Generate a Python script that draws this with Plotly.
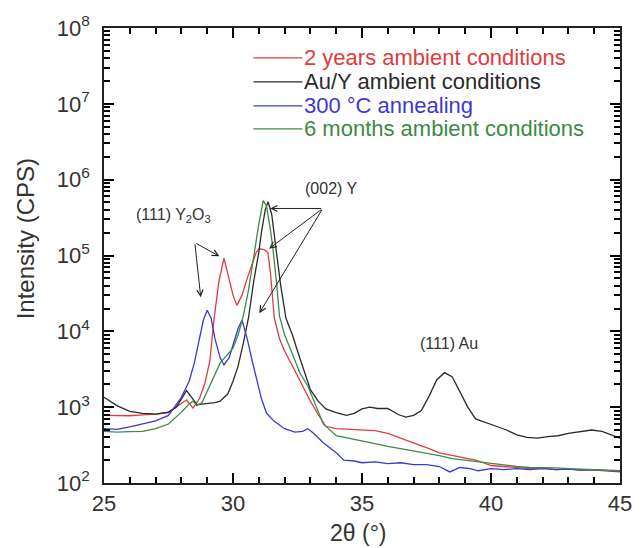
import plotly.graph_objects as go

# XRD scans: 2-theta (deg) and intensity (CPS)
tt_2y = [25.0, 25.5, 26.0, 26.5, 27.0, 27.5, 28.0, 28.2, 28.45, 28.7, 28.9, 29.1, 29.27, 29.45,
         29.65, 29.85, 30.0, 30.15, 30.35, 30.55, 30.8, 30.9, 31.02, 31.2, 31.35, 31.45, 31.6,
         31.8, 32.0, 32.3, 32.5, 32.7, 33.0, 33.3, 33.6, 34.0, 34.5, 35.0, 35.5, 36.0, 36.6,
         37.0, 37.7, 38.0, 38.5, 39.0, 39.4, 39.7, 40.0, 40.5, 41.0, 41.5, 42.0, 42.5, 43.0,
         43.5, 44.0, 44.5, 45.0]
cps_2y = [780, 770, 770, 790, 810, 850, 1100, 1250, 970, 1300, 2000, 4000, 15000, 45000,
          92000, 50000, 30000, 22000, 30000, 50000, 90000, 110000, 123000, 120000, 110000, 60000, 15000,
          8000, 5500, 3600, 2600, 1900, 1200, 800, 560, 520, 510, 500, 490, 450, 380,
          340, 275, 250, 230, 215, 200, 185, 170, 165, 160, 155, 158, 150, 152,
          148, 148, 145, 140]

tt_auy = [25.0, 25.5, 26.0, 26.5, 27.0, 27.5, 27.8, 28.0, 28.2, 28.4, 28.6, 28.8, 29.0, 29.3,
          29.5, 29.8, 30.0, 30.2, 30.4, 30.6, 30.8, 31.0, 31.1, 31.25, 31.36, 31.5, 31.67, 31.85,
          32.05, 32.3, 32.5, 32.7, 32.85, 33.0, 33.3, 33.6, 34.0, 34.4, 34.7, 35.0, 35.3, 35.6,
          36.0, 36.4, 36.7, 37.0, 37.3, 37.6, 37.9, 38.2, 38.5, 38.8, 39.1, 39.4, 39.8, 40.2,
          40.6, 41.0, 41.4, 41.8, 42.2, 42.6, 43.0, 43.4, 43.9, 44.3, 44.7, 45.0]
cps_auy = [1350, 1050, 880, 830, 810, 860, 1000, 1300, 1650, 1350, 1080, 1100, 1120, 1150,
           1200, 1500, 2200, 3500, 7000, 15000, 45000, 110000, 200000, 400000, 510000, 350000, 120000, 40000,
           15000, 9000, 5500, 3500, 2400, 1700, 1200, 950, 850, 780, 830, 950, 1000, 960,
           960, 800, 740, 780, 900, 1400, 2300, 2850, 2500, 1600, 1000, 700, 620, 560,
           500, 430, 400, 390, 410, 420, 450, 470, 500, 480, 430, 390]

tt_300 = [25.0, 25.5, 26.0, 26.5, 27.0, 27.5, 28.0, 28.3, 28.5, 28.7, 28.85, 29.0, 29.15, 29.3,
          29.5, 29.65, 29.85, 30.05, 30.2, 30.35, 30.55, 30.75, 30.9, 31.1, 31.3, 31.6, 32.0,
          32.4, 32.7, 32.9, 33.1, 33.5, 34.0, 34.3, 34.7, 35.0, 35.5, 36.0, 36.5, 37.0, 37.5,
          38.0, 38.4, 38.8, 39.2, 39.5, 40.0, 40.5, 41.0, 41.5, 42.0, 42.5, 43.0, 43.5, 44.0,
          44.5, 45.0]
cps_300 = [520, 510, 550, 600, 660, 780, 1350, 2200, 3800, 8000, 14000, 19000, 15000, 8000,
           4500, 3600, 4500, 7500, 11000, 14000, 8000, 4000, 2500, 1300, 830, 650, 520,
           470, 480, 520, 460, 340, 250, 200, 195, 185, 190, 180, 185, 175, 175,
           165, 140, 160, 155, 145, 155, 150, 155, 150, 155, 150, 152, 148, 150,
           145, 142]

tt_6m = [25.0, 25.5, 26.0, 26.5, 27.0, 27.5, 28.0, 28.3, 28.45, 28.6, 28.8, 29.0, 29.2, 29.5,
         29.8, 30.0, 30.2, 30.4, 30.6, 30.8, 31.0, 31.17, 31.3, 31.45, 31.55, 31.7, 31.8, 32.0,
         32.3, 32.6, 32.9, 33.2, 33.5, 34.0, 34.5, 35.0, 35.5, 36.0, 36.5, 37.0, 37.5, 38.0,
         38.5, 39.0, 39.5, 40.0, 40.5, 41.0, 41.5, 42.0, 42.5, 43.0, 43.5, 44.0, 44.5, 45.0]
cps_6m = [480, 470, 475, 480, 520, 600, 860, 1100, 1200, 1050, 1150, 1600, 2300, 3800,
          5000, 6000, 9000, 16000, 35000, 100000, 260000, 530000, 450000, 220000, 120000, 40000, 16000, 9000,
          5000, 2800, 1900, 1050, 600, 420, 390, 360, 330, 305, 285, 265, 245, 230,
          210, 200, 190, 180, 170, 165, 160, 160, 158, 155, 152, 150, 148, 145]

series = [
    ("2 years ambient conditions", tt_2y, cps_2y, "#e03c3c"),
    ("Au/Y ambient conditions", tt_auy, cps_auy, "#2a2a2a"),
    ("300 °C annealing", tt_300, cps_300, "#3a3ad2"),
    ("6 months ambient conditions", tt_6m, cps_6m, "#3d8a45"),
]

x_major = [25, 30, 35, 40, 45]
x_minor = [v for v in range(26, 45) if v % 5]
decades = [2, 3, 4, 5, 6, 7, 8]
y_minor = [m * 10 ** d for d in decades[:-1] for m in range(2, 10)]

W, H = 644, 548
L, R, T, B = 104, 12, 27, 65
PW, PH = W - L - R, H - T - B


def px(x):
    return (x - L) / PW


def py(y):
    return (H - B - y) / PH


FONT = "Liberation Sans, Arial, sans-serif"
AX = "#000000"
TXT = "#333333"

fig = go.Figure()
for name, x, y, c in series:
    fig.add_trace(go.Scatter(x=x, y=y, mode="lines", name=name,
                             line=dict(color=c, width=1.3), showlegend=False))

fig.update_layout(
    width=W, height=H, margin=dict(l=L, r=R, t=T, b=B),
    plot_bgcolor="white",
    font=dict(family=FONT, color=TXT),
    xaxis=dict(range=[25, 45], tickmode="array", tickvals=x_major,
               ticks="inside", ticklen=10, tickcolor=AX, tickwidth=2,
               showline=True, linecolor="#222222", linewidth=1.5, mirror="allticks",
               showgrid=False, zeroline=False, tickfont=dict(size=22, color=TXT),
               minor=dict(tickmode="array", tickvals=x_minor, ticks="inside",
                          ticklen=6, tickcolor=AX, tickwidth=1.5)),
    yaxis=dict(type="log", range=[2, 8], tickmode="array",
               tickvals=[10 ** d for d in decades],
               ticktext=["10<sup>%d</sup>" % d for d in decades],
               ticks="inside", ticklen=10, tickcolor=AX, tickwidth=2,
               showline=True, linecolor="#222222", linewidth=1.5, mirror="allticks",
               showgrid=False, zeroline=False, tickfont=dict(size=22, color=TXT),
               ticklabelstandoff=8,
               minor=dict(tickmode="array", tickvals=y_minor, ticks="inside",
                          ticklen=6, tickcolor=AX, tickwidth=1.5)),
)

# axis titles
fig.add_annotation(text="Intensity (CPS)", xref="paper", yref="paper", x=px(24), y=py(238),
                   xanchor="center", yanchor="middle",
                   textangle=-90, showarrow=False, font=dict(size=24, color=TXT))
fig.add_annotation(text="2θ (°)", xref="paper", yref="paper", x=px(364), y=py(533),
                   xanchor="center", yanchor="middle",
                   showarrow=False, font=dict(size=23, color=TXT))

# legend drawn as line samples plus coloured labels
rows = [57, 81, 105, 128]
for (name, _, _, c), ry in zip(series, rows):
    fig.add_shape(type="line", xref="paper", yref="paper", x0=px(257), x1=px(307),
                  y0=py(ry), y1=py(ry), line=dict(color=c, width=1.3))
    fig.add_annotation(text=name, xref="paper", yref="paper", x=px(307), y=py(ry),
                       xanchor="left", yanchor="middle", showarrow=False,
                       font=dict(size=22, color=c))

# peak labels
lab = dict(size=16, color=TXT)
fig.add_annotation(text="(002) Y", x=33.83, y=5.89, showarrow=False, font=lab)
fig.add_annotation(text="(111) Y<sub>2</sub>O<sub>3</sub>", x=27.69, y=5.53, showarrow=False, font=lab)
fig.add_annotation(text="(111) Au", x=38.37, y=3.84, showarrow=False, font=lab)

arrows = [
    ((33.48, 5.62), (31.44, 5.62)),
    ((33.48, 5.62), (31.40, 5.09)),
    ((33.48, 5.62), (31.02, 4.24)),
    ((28.52, 5.17), (29.47, 4.99)),
    ((28.52, 5.17), (28.75, 4.45)),
]
for (ax, ay), (hx, hy) in arrows:
    fig.add_annotation(x=hx, y=hy, ax=ax, ay=ay, axref="x", ayref="y", text="",
                       showarrow=True, arrowhead=5, arrowsize=1.2, arrowwidth=1,
                       arrowcolor="#222222")

fig.write_html("out.html")
